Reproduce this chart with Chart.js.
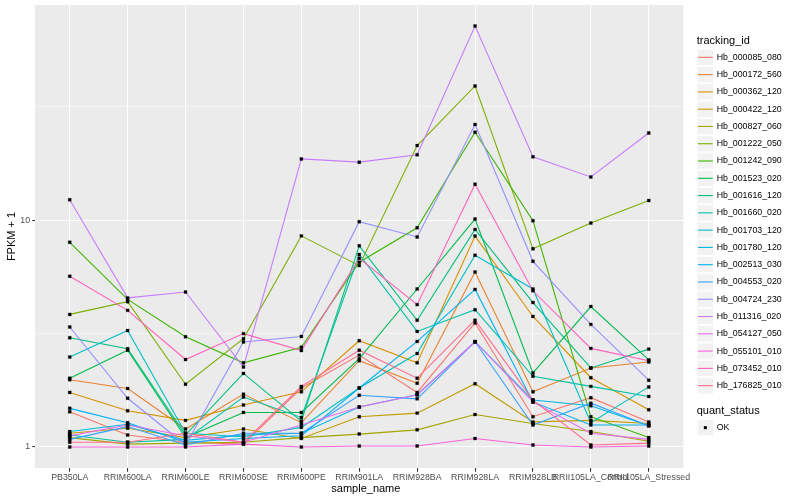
<!DOCTYPE html>
<html>
<head>
<meta charset="utf-8">
<script src="https://cdn.jsdelivr.net/npm/chart.js@4.4.0/dist/chart.umd.min.js"></script>
<style>
html,body{margin:0;padding:0;background:#ffffff;}
#c{display:block;}
</style>
</head>
<body>
<canvas id="c" width="800" height="500" style="width:800px;height:500px"></canvas>
<script>
const categories = ["PB350LA","RRIM600LA","RRIM600LE","RRIM600SE","RRIM600PE","RRIM901LA","RRIM928BA","RRIM928LA","RRIM928LB","RRII105LA_Control","RRII105LA_Stressed"];
const trackingIds = ["Hb_000085_080","Hb_000172_560","Hb_000362_120","Hb_000422_120","Hb_000827_060","Hb_001222_050","Hb_001242_090","Hb_001523_020","Hb_001616_120","Hb_001660_020","Hb_001703_120","Hb_001780_120","Hb_002513_030","Hb_004553_020","Hb_004724_230","Hb_011316_020","Hb_054127_050","Hb_055101_010","Hb_073452_010","Hb_176825_010"];
const seriesColors = ["#F8766D","#EA8331","#D89000","#C09B00","#A3A500","#7CAE00","#39B600","#00BB4E","#00BF7D","#00C1A3","#00BFC4","#00BAE0","#00B0F6","#35A2FF","#9590FF","#C77CFF","#E76BF3","#FA62DB","#FF62BC","#FF6C91"];
const yTickValues = [1, 3.1623, 10, 31.623];
const yTickLabels = ["1", "", "10", ""];
const quantStatus = ["OK"];

const Hb_000085_080 = [1.43, 1.13, 1.05, 1.03, 1.82, 2.54, 1.74, 3.52, 1.36, 1.65, 1.29];
const Hb_000172_560 = [1.98, 1.81, 1.20, 1.71, 1.28, 2.40, 1.91, 5.90, 1.75, 2.23, 2.37];
const Hb_000362_120 = [1.74, 1.445, 1.31, 1.53, 1.75, 2.94, 2.35, 8.50, 3.76, 2.02, 1.46];
const Hb_000422_120 = [1.15, 1.21, 1.10, 1.20, 1.09, 1.36, 1.41, 1.90, 1.29, 1.31, 1.27];
const Hb_000827_060 = [1.10, 1.03, 1.04, 1.05, 1.10, 1.14, 1.19, 1.39, 1.27, 1.17, 1.06];
const Hb_001222_050 = [3.84, 4.37, 1.89, 3.00, 8.52, 6.30, 21.3, 39.0, 7.47, 9.70, 12.2];
const Hb_001242_090 = [7.98, 4.47, 3.06, 2.35, 2.75, 6.52, 9.25, 24.4, 9.94, 1.36, 1.10];
const Hb_001523_020 = [2.01, 2.67, 1.10, 1.42, 1.42, 2.45, 4.97, 10.1, 2.12, 4.16, 2.42];
const Hb_001616_120 = [3.03, 2.71, 1.13, 2.11, 1.30, 7.70, 3.62, 9.10, 4.33, 2.23, 2.70];
const Hb_001660_020 = [1.13, 1.05, 1.08, 1.66, 1.35, 7.06, 3.23, 4.03, 2.05, 1.85, 1.67];
const Hb_001703_120 = [2.49, 3.26, 1.15, 1.11, 1.22, 1.82, 2.58, 7.00, 4.97, 1.28, 1.84];
const Hb_001780_120 = [1.17, 1.26, 1.07, 1.13, 1.15, 1.50, 1.70, 2.91, 1.61, 1.52, 1.24];
const Hb_002513_030 = [1.48, 1.28, 1.05, 1.09, 1.12, 1.82, 2.92, 4.95, 1.58, 1.25, 1.25];
const Hb_004553_020 = [1.08, 1.23, 1.02, 1.15, 1.15, 1.69, 1.63, 2.91, 1.25, 1.56, 1.24];
const Hb_004724_230 = [3.38, 1.64, 1.02, 2.90, 3.07, 9.84, 8.43, 26.4, 6.58, 3.47, 1.97];
const Hb_011316_020 = [12.3, 4.54, 4.82, 2.25, 18.6, 18.0, 19.4, 71.6, 19.0, 15.5, 24.2];
const Hb_054127_050 = [1.12, 1.25, 1.12, 1.05, 1.25, 1.50, 1.70, 2.91, 1.58, 1.15, 1.08];
const Hb_055101_010 = [1.00, 1.00, 1.00, 1.03, 1.00, 1.01, 1.01, 1.09, 1.02, 1.00, 1.01];
const Hb_073452_010 = [5.66, 4.00, 2.43, 3.16, 2.66, 6.79, 4.24, 14.4, 4.88, 2.72, 2.40];
const Hb_176825_010 = [1.05, 1.05, 1.15, 1.05, 1.85, 2.67, 2.01, 3.62, 1.61, 1.02, 1.04];

const seriesValues = [Hb_000085_080, Hb_000172_560, Hb_000362_120, Hb_000422_120, Hb_000827_060,
  Hb_001222_050, Hb_001242_090, Hb_001523_020, Hb_001616_120, Hb_001660_020, Hb_001703_120,
  Hb_001780_120, Hb_002513_030, Hb_004553_020, Hb_004724_230, Hb_011316_020, Hb_054127_050,
  Hb_055101_010, Hb_073452_010, Hb_176825_010];

const FONT = "'Liberation Sans', Arial, Helvetica, sans-serif";
Chart.defaults.font.family = FONT;

const lineSets = seriesValues.map((vals, i) => ({
  label: trackingIds[i],
  data: vals.map((v, j) => ({x: j, y: v})),
  borderColor: seriesColors[i],
  backgroundColor: seriesColors[i],
  borderWidth: 1.1,
  pointRadius: 0,
  pointHoverRadius: 0,
  tension: 0,
  fill: false,
  order: 100 - i
}));
const pointSets = seriesValues.map((vals, i) => ({
  label: trackingIds[i] + ' ' + quantStatus[0],
  data: vals.map((v, j) => ({x: j, y: v})),
  showLine: false,
  pointStyle: 'rect',
  pointRadius: 2.1,
  pointBackgroundColor: '#000000',
  pointBorderColor: '#000000',
  pointBorderWidth: 0.3,
  order: 0
}));

const KEY = 17.28;
const panelPlugin = {
  id: 'panel',
  beforeDraw(chart) {
    const {ctx, chartArea, scales} = chart;
    const x0 = scales.x.getPixelForValue(-0.6);
    const x1 = scales.x.getPixelForValue(categories.length - 1 + 0.6);
    ctx.save();
    ctx.fillStyle = '#EBEBEB';
    ctx.fillRect(x0, chartArea.top, x1 - x0, chartArea.bottom - chartArea.top);
    ctx.restore();
  },
  afterDraw(chart) {
    const ctx = chart.ctx;
    const boxes = chart.legend.legendHitBoxes;
    ctx.save();
    boxes.forEach((b, i) => {
      const x0 = b.left, y0 = b.top;
      ctx.fillStyle = '#F2F2F2';
      ctx.fillRect(x0, y0, KEY, KEY);
      ctx.strokeStyle = '#FFFFFF';
      ctx.lineWidth = 1;
      ctx.strokeRect(x0 + 0.5, y0 + 0.5, KEY - 1, KEY - 1);
      ctx.strokeStyle = seriesColors[i];
      ctx.lineWidth = 1.1;
      ctx.beginPath();
      ctx.moveTo(x0 + 1.2, y0 + KEY / 2);
      ctx.lineTo(x0 + KEY - 1.2, y0 + KEY / 2);
      ctx.stroke();
    });
    // second legend: quant_status
    const lx = boxes.length ? boxes[0].left : 697;
    const last = boxes[boxes.length - 1];
    const titleY = last.top + KEY + 16.7;
    ctx.fillStyle = '#000000';
    ctx.font = '11px ' + FONT;
    ctx.textAlign = 'left';
    ctx.textBaseline = 'middle';
    ctx.fillText('quant_status', lx, titleY);
    const ky = titleY + 8;
    ctx.fillStyle = '#F2F2F2';
    ctx.fillRect(lx, ky, KEY, KEY);
    ctx.strokeStyle = '#FFFFFF';
    ctx.lineWidth = 1;
    ctx.strokeRect(lx + 0.5, ky + 0.5, KEY - 1, KEY - 1);
    ctx.fillStyle = '#000000';
    ctx.fillRect(lx + KEY / 2 - 1.5, ky + KEY / 2 - 1.5, 3, 3);
    ctx.font = '8.8px ' + FONT;
    ctx.fillText(quantStatus[0], lx + 20, ky + KEY / 2);
    ctx.restore();
  }
};

new Chart(document.getElementById('c'), {
  type: 'line',
  data: { datasets: lineSets.concat(pointSets) },
  plugins: [panelPlugin],
  options: {
    responsive: false,
    animation: false,
    devicePixelRatio: 1,
    layout: { padding: { left: 0, right: 11.3, top: 5, bottom: 0 } },
    plugins: {
      tooltip: { enabled: false },
      legend: {
        position: 'right',
        align: 'start',
        maxWidth: 92,
        title: {
          display: true, text: 'tracking_id', color: '#000000', position: 'start',
          font: { size: 11, family: FONT }, padding: { top: 30.2, bottom: 0.3 }
        },
        labels: {
          boxWidth: 15.6, boxHeight: KEY, padding: 0, color: '#000000',
          font: { size: 8.8, family: FONT },
          generateLabels: () => trackingIds.map((t, i) => ({
            text: t, fillStyle: 'rgba(0,0,0,0)', strokeStyle: 'rgba(0,0,0,0)',
            lineWidth: 0, datasetIndex: i, hidden: false
          }))
        }
      }
    },
    scales: {
      x: {
        type: 'linear',
        min: -0.6,
        max: 10.828,
        afterBuildTicks: s => { s.ticks = categories.map((c, i) => ({ value: i })); },
        afterFit: s => { s.height = 32; s.paddingLeft = 0; s.paddingRight = 0; },
        ticks: {
          autoSkip: false, maxRotation: 0, minRotation: 0, padding: 0.5,
          color: '#4D4D4D', font: { size: 8.8, family: FONT },
          callback: v => (categories[v] !== undefined ? categories[v] : '')
        },
        grid: { color: '#FFFFFF', lineWidth: 1.07, drawTicks: true, tickLength: 3.7, tickColor: '#333333', tickWidth: 1.07 },
        border: { display: false },
        title: { display: true, text: 'sample_name', color: '#000000', font: { size: 11, family: FONT }, padding: { top: 0, bottom: 4.4 } }
      },
      y: {
        type: 'logarithmic',
        min: 0.808,
        max: 88.7,
        afterBuildTicks: s => { s.ticks = yTickValues.map(v => ({ value: v })); },
        afterFit: s => { s.width = 35; s.paddingTop = 0; s.paddingBottom = 0; },
        ticks: {
          padding: 2.2, color: '#4D4D4D', font: { size: 8.8, family: FONT },
          callback: (v, i) => yTickLabels[i]
        },
        grid: {
          color: '#FFFFFF',
          lineWidth: c => (c.index === 0 || c.index === 2) ? 1.07 : 0.53,
          drawTicks: true, tickLength: 2.75,
          tickColor: c => (c.index === 0 || c.index === 2) ? '#333333' : 'rgba(0,0,0,0)',
          tickWidth: 1.07
        },
        border: { display: false },
        title: { display: true, text: 'FPKM + 1', color: '#000000', font: { size: 11, family: FONT }, padding: { top: 5.4, bottom: 0 } }
      }
    }
  }
});
</script>
</body>
</html>
